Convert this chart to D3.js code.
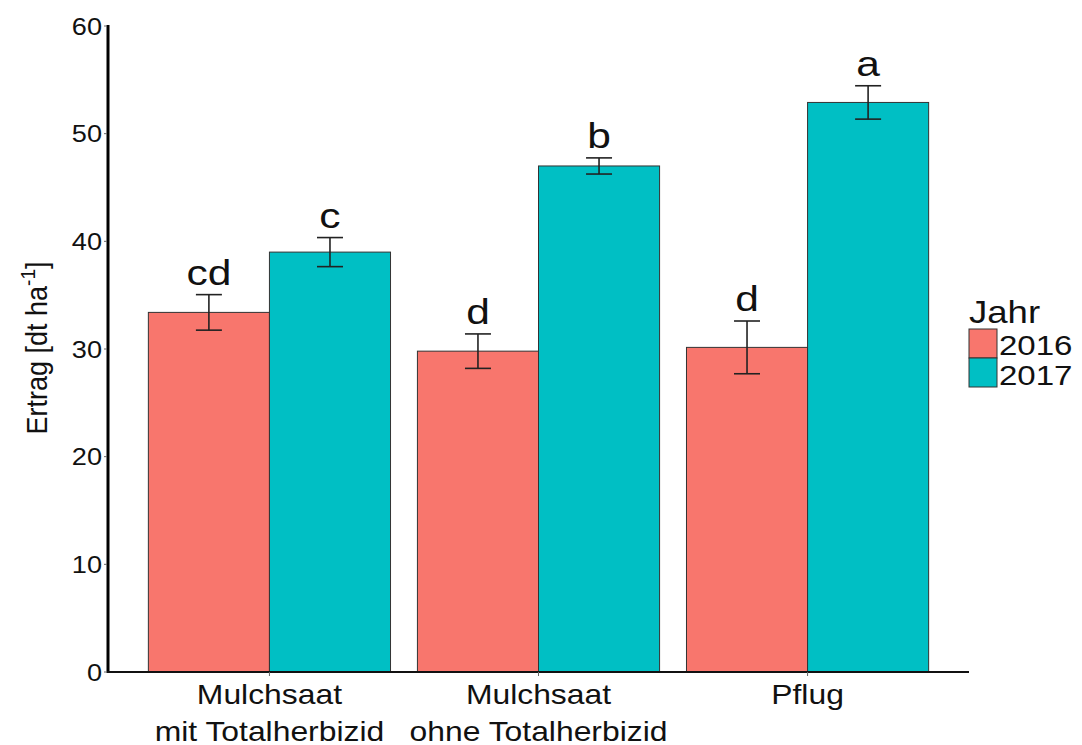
<!DOCTYPE html>
<html lang="de">
<head>
<meta charset="UTF-8">
<title>Ertrag</title>
<script src="https://cdn.jsdelivr.net/npm/d3@7"></script>
<style>
  body { margin: 0; background: #fff; }
  text { font-family: "Liberation Sans", Arial, sans-serif; fill: #111; }
</style>
</head>
<body>
<svg id="chart" width="1082" height="745"></svg>
<script>
// data
var categories = ["Mulchsaat mit Totalherbizid", "Mulchsaat ohne Totalherbizid", "Pflug"];
var catLabels = [["Mulchsaat", "mit Totalherbizid"], ["Mulchsaat", "ohne Totalherbizid"], ["Pflug"]];
var years = ["2016", "2017"];
var mean2016 = [33.4, 29.8, 30.15];
var mean2017 = [39.0, 47.0, 52.9];
var se2016 = [1.65, 1.6, 2.45];
var se2017 = [1.35, 0.75, 1.55];
var letters2016 = ["cd", "d", "d"];
var letters2017 = ["c", "b", "a"];
var yTicks = [0, 10, 20, 30, 40, 50, 60];

var colors = { "2016": "#F8766D", "2017": "#00BFC4" };

var rows = [];
categories.forEach(function(c, i) {
    rows.push({ cat: c, year: "2016", mean: mean2016[i], se: se2016[i], letter: letters2016[i] });
    rows.push({ cat: c, year: "2017", mean: mean2017[i], se: se2017[i], letter: letters2017[i] });
});

var svg = d3.select("#chart");
var sx = 1.18; // the figure's text is a bit stretched sideways

var x = d3.scalePoint().domain(categories).range([108, 969]).padding(0.6);
var step = x.step();
var xYear = d3.scaleBand().domain(years).range([-0.45 * step, 0.45 * step]);
var y = d3.scaleLinear().domain([0, 60]).range([672, 26]);

// stretched text helper
function label(g, px, py, str, size, anchor) {
    return g.append("g")
        .attr("transform", "translate(" + px + "," + py + ") scale(" + sx + ",1)")
        .append("text")
        .attr("font-size", size)
        .attr("text-anchor", anchor)
        .text(str);
}

// bars
svg.selectAll("rect.bar")
    .data(rows)
    .enter().append("rect")
    .attr("class", "bar")
    .attr("x", function(d) { return x(d.cat) + xYear(d.year); })
    .attr("width", xYear.bandwidth())
    .attr("y", function(d) { return y(d.mean); })
    .attr("height", function(d) { return y(0) - y(d.mean); })
    .style("fill", function(d) { return colors[d.year]; })
    .style("stroke", "#333")
    .style("stroke-width", 1);

// error bars
var whisker = 13;
var eb = svg.selectAll("g.err").data(rows).enter().append("g").attr("class", "err")
    .style("stroke", "#222").style("stroke-width", 1.6);
function cx(d) { return x(d.cat) + xYear(d.year) + xYear.bandwidth() / 2; }
eb.append("line")
    .attr("x1", cx).attr("x2", cx)
    .attr("y1", function(d) { return y(d.mean + d.se); })
    .attr("y2", function(d) { return y(d.mean - d.se); });
eb.append("line")
    .attr("x1", function(d) { return cx(d) - whisker; })
    .attr("x2", function(d) { return cx(d) + whisker; })
    .attr("y1", function(d) { return y(d.mean + d.se); })
    .attr("y2", function(d) { return y(d.mean + d.se); });
eb.append("line")
    .attr("x1", function(d) { return cx(d) - whisker; })
    .attr("x2", function(d) { return cx(d) + whisker; })
    .attr("y1", function(d) { return y(d.mean - d.se); })
    .attr("y2", function(d) { return y(d.mean - d.se); });

// significance letters
rows.forEach(function(d) {
    label(svg, cx(d), y(d.mean + d.se) - 10, d.letter, 36, "middle");
});

// y axis
var yAxis = svg.append("g");
yAxis.append("line").attr("x1", 108).attr("x2", 108).attr("y1", y(60) - 1).attr("y2", y(0) + 1)
    .style("stroke", "#000").style("stroke-width", 3);
yTicks.forEach(function(t) {
    yAxis.append("line").attr("x1", 104).attr("x2", 107).attr("y1", y(t)).attr("y2", y(t))
        .style("stroke", "#666").style("stroke-width", 1);
    label(yAxis, 102, y(t) + 8.5, t, 23, "end");
});

// x axis
var xAxis = svg.append("g");
xAxis.append("line").attr("x1", 107).attr("x2", 969).attr("y1", y(0)).attr("y2", y(0))
    .style("stroke", "#111").style("stroke-width", 2);
categories.forEach(function(c, i) {
    xAxis.append("line").attr("x1", x(c)).attr("x2", x(c)).attr("y1", y(0)).attr("y2", y(0) + 4)
        .style("stroke", "#666").style("stroke-width", 1);
    catLabels[i].forEach(function(s, j) {
        label(xAxis, x(c), 704 + j * 37, s, 27, "middle");
    });
});

// y title
var yt = svg.append("g").attr("transform", "translate(47,348) scale(1.1,1) rotate(-90)")
    .append("text").attr("text-anchor", "middle").attr("font-size", 27);
yt.append("tspan").text("Ertrag [dt ha");
yt.append("tspan").attr("font-size", 19).attr("dy", -11).text("-1");
yt.append("tspan").attr("dy", 11).text("]");

// legend
var leg = svg.append("g");
label(leg, 969, 323, "Jahr", 31, "start");
years.forEach(function(yr, i) {
    leg.append("rect").attr("x", 969).attr("y", 329 + i * 29).attr("width", 28).attr("height", 29)
        .style("fill", colors[yr]).style("stroke", "#333").style("stroke-width", 1);
    label(leg, 999, 355 + i * 30, yr, 28, "start");
});
</script>
</body>
</html>
